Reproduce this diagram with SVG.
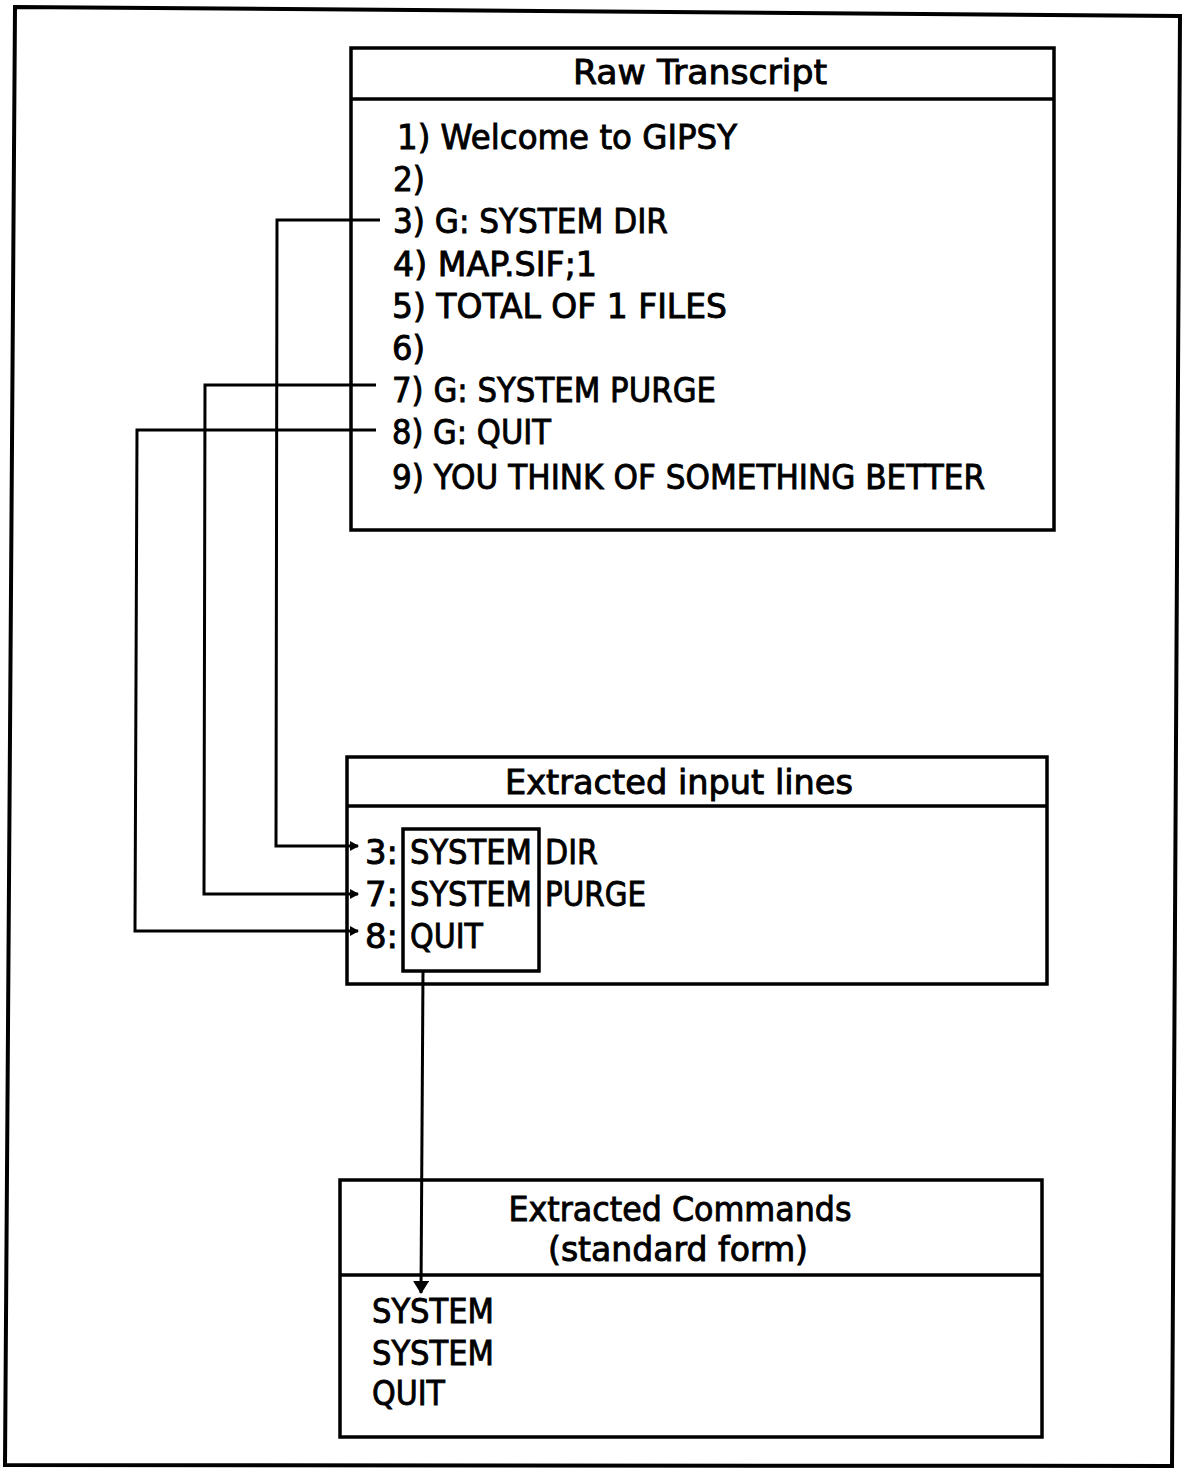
<svg xmlns="http://www.w3.org/2000/svg" width="1183" height="1468" viewBox="0 0 1183 1468">
<style>
.box{fill:none;stroke:#000;stroke-width:3.5}
.ln{fill:none;stroke:#000;stroke-width:3}
.t{font-family:"DejaVu Sans","Liberation Sans",sans-serif;font-size:33px;fill:#000;stroke:#000;stroke-width:0.9}
.h{font-family:"DejaVu Sans","Liberation Sans",sans-serif;font-size:33px;fill:#000;stroke:#000;stroke-width:0.9;text-anchor:middle}
</style>
<defs>
<marker id="ah" markerWidth="10" markerHeight="12" refX="8" refY="6" orient="auto" markerUnits="userSpaceOnUse">
<path d="M0,1 L9,6 L0,11 Z" fill="#000"/>
</marker>
<marker id="ahb" markerWidth="16" markerHeight="16" refX="12" refY="8" orient="auto" markerUnits="userSpaceOnUse">
<path d="M0,0 L13,8 L0,16 Z" fill="#000"/>
</marker>
</defs>
<rect width="1183" height="1468" fill="#fff"/>
<polygon points="15,7 1180,16 1172,1466 5,1465" fill="none" stroke="#000" stroke-width="4"/>

<g id="raw-transcript">
<rect class="box" x="351" y="48" width="703" height="482"/>
<line class="box" x1="351" y1="99" x2="1054" y2="99"/>
<text class="h" x="700" y="84" textLength="254" lengthAdjust="spacingAndGlyphs">Raw Transcript</text>
<text class="t" x="397" y="149" textLength="340" lengthAdjust="spacingAndGlyphs">1) Welcome to GIPSY</text>
<text class="t" x="393" y="191" textLength="32" lengthAdjust="spacingAndGlyphs">2)</text>
<text class="t" x="393" y="233" textLength="275" lengthAdjust="spacingAndGlyphs">3) G: SYSTEM DIR</text>
<text class="t" x="393" y="276" textLength="204" lengthAdjust="spacingAndGlyphs">4) MAP.SIF;1</text>
<text class="t" x="392" y="318" textLength="335" lengthAdjust="spacingAndGlyphs">5) TOTAL OF 1 FILES</text>
<text class="t" x="392" y="360" textLength="33" lengthAdjust="spacingAndGlyphs">6)</text>
<text class="t" x="392" y="402" textLength="324" lengthAdjust="spacingAndGlyphs">7) G: SYSTEM PURGE</text>
<text class="t" x="392" y="444" textLength="159" lengthAdjust="spacingAndGlyphs">8) G: QUIT</text>
<text class="t" x="392" y="489" textLength="593" lengthAdjust="spacingAndGlyphs">9) YOU THINK OF SOMETHING BETTER</text>
</g>

<g id="extracted-input-lines">
<rect class="box" x="347" y="757" width="700" height="227"/>
<line class="box" x1="347" y1="806" x2="1047" y2="806"/>
<text class="h" x="679" y="794" textLength="348" lengthAdjust="spacingAndGlyphs">Extracted input lines</text>
<rect class="box" x="403" y="829" width="136" height="142"/>
<text class="t" x="365" y="864" textLength="33" lengthAdjust="spacingAndGlyphs">3:</text>
<text class="t" x="410" y="864" textLength="122" lengthAdjust="spacingAndGlyphs">SYSTEM</text>
<text class="t" x="545" y="864" textLength="53" lengthAdjust="spacingAndGlyphs">DIR</text>
<text class="t" x="365" y="906" textLength="33" lengthAdjust="spacingAndGlyphs">7:</text>
<text class="t" x="410" y="906" textLength="122" lengthAdjust="spacingAndGlyphs">SYSTEM</text>
<text class="t" x="545" y="906" textLength="101" lengthAdjust="spacingAndGlyphs">PURGE</text>
<text class="t" x="365" y="948" textLength="33" lengthAdjust="spacingAndGlyphs">8:</text>
<text class="t" x="410" y="948" textLength="73" lengthAdjust="spacingAndGlyphs">QUIT</text>
</g>

<g id="extracted-commands">
<rect class="box" x="340" y="1180" width="702" height="257"/>
<line class="box" x1="340" y1="1275" x2="1042" y2="1275"/>
<text class="h" x="680" y="1221" textLength="343" lengthAdjust="spacingAndGlyphs">Extracted Commands</text>
<text class="h" x="678" y="1261" textLength="260" lengthAdjust="spacingAndGlyphs">(standard form)</text>
<text class="t" x="372" y="1323" textLength="122" lengthAdjust="spacingAndGlyphs">SYSTEM</text>
<text class="t" x="372" y="1365" textLength="122" lengthAdjust="spacingAndGlyphs">SYSTEM</text>
<text class="t" x="372" y="1405" textLength="73" lengthAdjust="spacingAndGlyphs">QUIT</text>
</g>

<g id="connectors">
<polyline class="ln" points="380,220 277,220 276,846 358,846" marker-end="url(#ah)"/>
<polyline class="ln" points="376,385 205,385 204,894 358,894" marker-end="url(#ah)"/>
<polyline class="ln" points="376,430 137,430 135,931 358,931" marker-end="url(#ah)"/>
<polyline class="ln" points="423,971 421,1293" marker-end="url(#ahb)"/>
</g>
</svg>
